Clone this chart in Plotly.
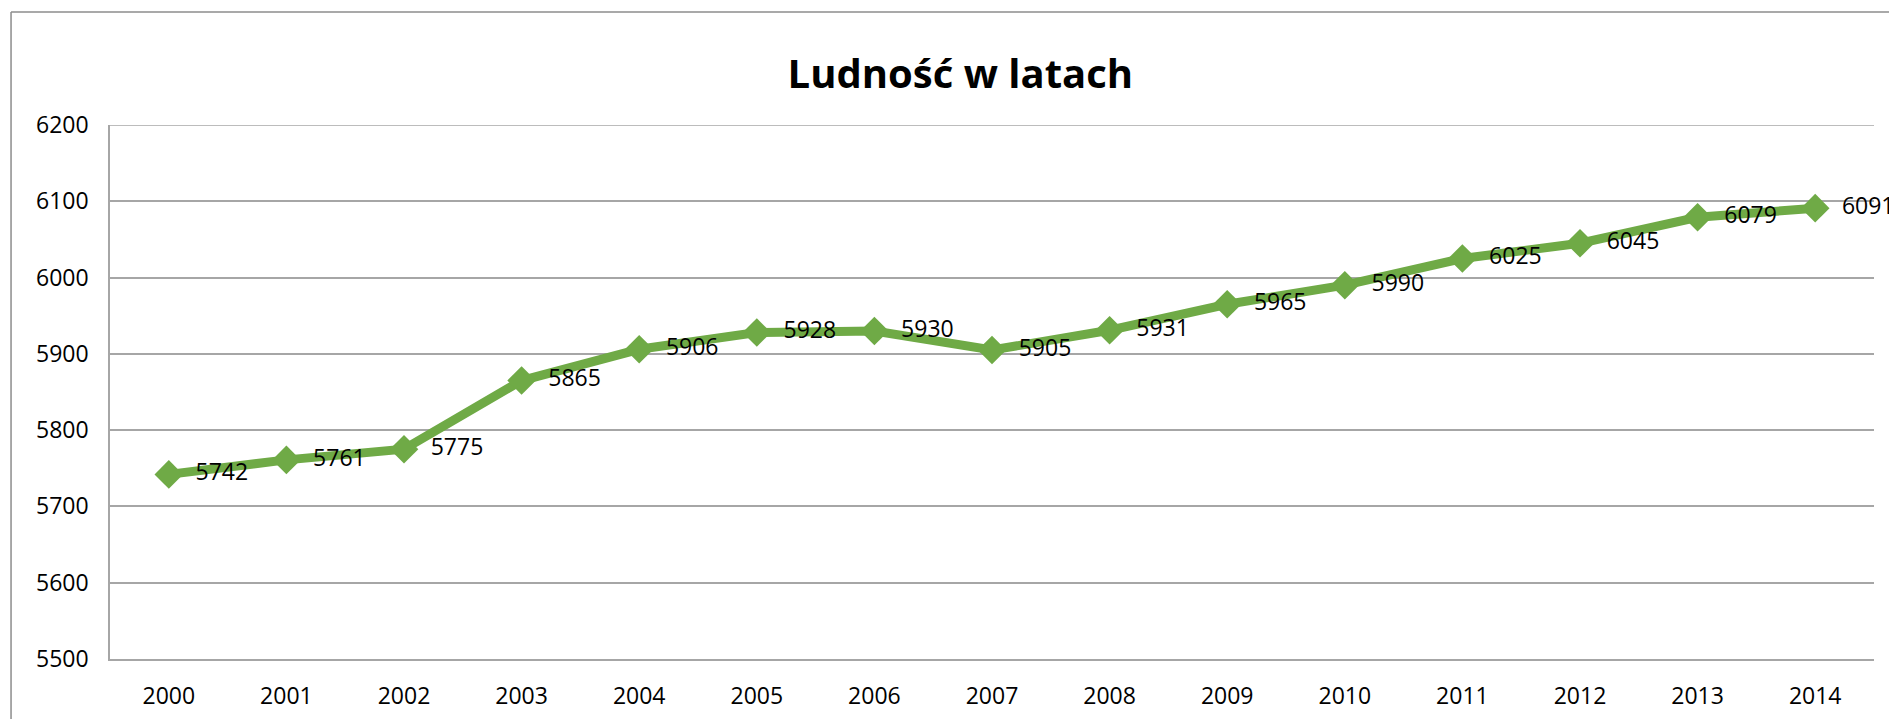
import plotly.graph_objects as go

# dane
lata = ['2000', '2001', '2002', '2003', '2004', '2005', '2006', '2007',
        '2008', '2009', '2010', '2011', '2012', '2013', '2014']
ludnosc = [5742, 5761, 5775, 5865, 5906, 5928, 5930, 5905,
           5931, 5965, 5990, 6025, 6045, 6079, 6091]
tytul = 'Ludność w latach'

zielony = '#6FAA46'
szary = '#A6A6A6'
czcionka = 'Open Sans'

fig = go.Figure()

fig.add_trace(go.Scatter(
    x=lata,
    y=ludnosc,
    mode='lines+markers+text',
    line=dict(color=zielony, width=9),
    marker=dict(symbol='diamond', size=22, color=zielony),
    text=['\u00a0\u00a0' + str(v) for v in ludnosc],
    textposition='middle right',
    textfont=dict(family=czcionka, size=23, color='black'),
    cliponaxis=False,
    hoverinfo='x+y'
))

# ramka wykresu (lewa i górna krawędź) + górna linia siatki
fig.add_shape(type='line', xref='paper', yref='paper',
              x0=-0.0561, x1=-0.0561, y0=1.2116, y1=-0.3,
              line=dict(color='#8C8C8C', width=1.5))
fig.add_shape(type='line', xref='paper', yref='paper',
              x0=-0.0561, x1=1.2, y0=1.2116, y1=1.2116,
              line=dict(color='#8C8C8C', width=1.5))
fig.add_shape(type='line', xref='paper', yref='y',
              x0=0, x1=1, y0=6200, y1=6200,
              line=dict(color=szary, width=1.5), layer='below')

# body strony ma margines 8px, więc marginesy są przesunięte
fig.update_layout(
    width=1897,
    height=719,
    showlegend=False,
    plot_bgcolor='white',
    paper_bgcolor='white',
    margin=dict(l=102, r=31, t=117, b=68),
    title=dict(
        text='<b>' + tytul + '</b>',
        x=0.502,
        xanchor='center',
        y=0.908,
        yanchor='middle',
        font=dict(family=czcionka, size=40, color='black')
    ),
    font=dict(family=czcionka, size=23, color='black'),
    xaxis=dict(
        type='category',
        range=[-0.5, 14.5],
        showgrid=False,
        showline=True,
        linecolor=szary,
        linewidth=1.5,
        ticks='',
        ticklabelstandoff=16,
        tickfont=dict(family=czcionka, size=23, color='black'),
        zeroline=False
    ),
    yaxis=dict(
        range=[5500, 6200],
        dtick=100,
        showgrid=True,
        gridcolor=szary,
        gridwidth=1.5,
        showline=True,
        linecolor=szary,
        linewidth=1.5,
        ticks='',
        ticklabelstandoff=15,
        tickfont=dict(family=czcionka, size=23, color='black'),
        zeroline=False
    )
)

fig.write_html('out.html')
